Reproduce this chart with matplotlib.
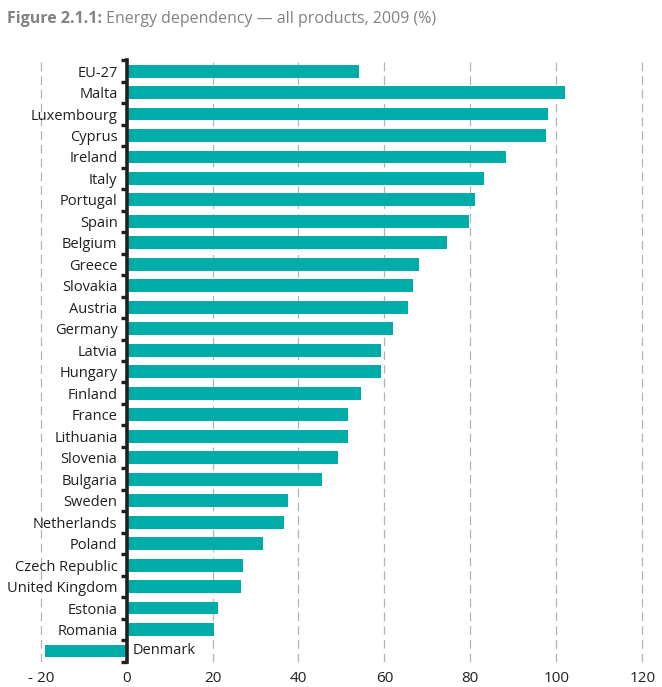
import matplotlib
matplotlib.use("Agg")
import matplotlib.pyplot as plt
from matplotlib.ticker import FixedLocator
from matplotlib import font_manager

plt.rcParams['font.family'] = ['Open Sans', 'DejaVu Sans']

countries = ['EU-27', 'Malta', 'Luxembourg', 'Cyprus', 'Ireland', 'Italy', 'Portugal',
             'Spain', 'Belgium', 'Greece', 'Slovakia', 'Austria', 'Germany', 'Latvia',
             'Hungary', 'Finland', 'France', 'Lithuania', 'Slovenia', 'Bulgaria', 'Sweden',
             'Netherlands', 'Poland', 'Czech Republic', 'United Kingdom', 'Estonia',
             'Romania', 'Denmark']
values = [54.1, 102.0, 98.1, 97.6, 88.3, 83.2, 81.0, 79.6, 74.5, 68.1, 66.7, 65.4,
          62.0, 59.2, 59.3, 54.5, 51.6, 51.6, 49.2, 45.4, 37.6, 36.7, 31.8, 27.1,
          26.7, 21.2, 20.3, -19.0]
xticks = [-20, 0, 20, 40, 60, 80, 100, 120]
xtick_labels = ['- 20', '0', '20', '40', '60', '80', '100', '120']

title_bold = 'Figure 2.1.1:'
title_rest = ' Energy dependency \u2014 all products, 2009 (%)'

bar_color = '#00aca8'
text_color = '#231f20'
grid_color = '#b3b3b3'
title_color = '#808285'

names = {f.name for f in font_manager.fontManager.ttflist}
if 'Liberation Sans Narrow' in names:
    title_family = ['Liberation Sans Narrow', 'DejaVu Sans']
    title_size = 14.5
else:
    title_family = ['Open Sans', 'DejaVu Sans']
    title_size = 11.5

fig = plt.figure(figsize=(6.62, 6.87), dpi=100)
ax = fig.add_axes([0.0485, 0.0368, 0.9346, 0.8754])

n = len(countries)
pos = list(range(n))
ax.barh(pos, values, height=0.6, color=bar_color, zorder=2)

ax.set_ylim(n - 0.5, -0.5)
ax.set_xlim(-22, 122)

for xt in xticks:
    if xt != 0:
        ax.axvline(xt, color=grid_color, lw=0.9, ls=(0, (7, 4)), zorder=1)

for s in ['top', 'right', 'bottom']:
    ax.spines[s].set_visible(False)
ax.spines['left'].set_position(('data', 0))
ax.spines['left'].set_linewidth(2.6)
ax.spines['left'].set_color(text_color)
ax.spines['left'].set_zorder(3)

ax.set_xticks(xticks)
ax.set_xticklabels(xtick_labels)
ax.tick_params(axis='x', length=0, pad=7, labelsize=11, labelcolor=text_color)

ax.set_yticks(pos)
ylabels = [c if v >= 0 else '' for c, v in zip(countries, values)]
ax.set_yticklabels(ylabels)
ax.tick_params(axis='y', which='major', length=0, pad=6.5, labelsize=10.5,
               labelcolor=text_color)
ax.yaxis.set_minor_locator(FixedLocator([p - 0.5 for p in range(n + 1)]))
ax.tick_params(axis='y', which='minor', length=4, width=2.4, color=text_color,
               direction='out')

for p, (c, v) in enumerate(zip(countries, values)):
    if v < 0:
        ax.annotate(c, xy=(0, p), xytext=(4, 0), textcoords='offset points',
                    ha='left', va='center', fontsize=10.5, color=text_color)

t1 = fig.text(0.011, 0.973, title_bold, fontsize=title_size, fontweight='bold',
              color=title_color, ha='left', va='center', family=title_family)
fig.canvas.draw()
bb = t1.get_window_extent(renderer=fig.canvas.get_renderer())
x2 = bb.x1 / fig.bbox.width
fig.text(x2, 0.973, title_rest, fontsize=title_size, color=title_color, ha='left',
         va='center', family=title_family)

fig.savefig('out.png', dpi=100)
